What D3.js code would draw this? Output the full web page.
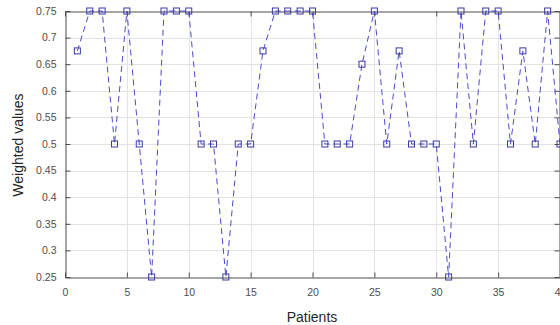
<!DOCTYPE html>
<meta charset="utf-8">
<style>
body { margin: 0; background: #fff; }
svg { font-family: "Liberation Sans", Arial, sans-serif; }
.grid line { stroke: #e3e3e3; stroke-width: 1; }
.axis text { fill: #4d4d4d; font-size: 10.5px; }
.axis path, .axis line { stroke: #4d4d4d; }
.label { fill: #262626; font-size: 14px; }
</style>
<svg width="560" height="325"></svg>
<script src="https://d3js.org/d3.v7.min.js"></script>
<script>
// patient index and weighted value
var patients = d3.range(1, 41);
var weights = [0.675, 0.75, 0.75, 0.5, 0.75, 0.5, 0.25, 0.75, 0.75, 0.75,
               0.5, 0.5, 0.25, 0.5, 0.5, 0.675, 0.75, 0.75, 0.75, 0.75,
               0.5, 0.5, 0.5, 0.65, 0.75, 0.5, 0.675, 0.5, 0.5, 0.5,
               0.25, 0.75, 0.5, 0.75, 0.75, 0.5, 0.675, 0.5, 0.75, 0.5];
var xTicks = [0, 5, 10, 15, 20, 25, 30, 35, 40];
var yTicks = [0.25, 0.3, 0.35, 0.4, 0.45, 0.5, 0.55, 0.6, 0.65, 0.7, 0.75];

var svg = d3.select("svg");
var pLeft = 65, pRight = 560, pTop = 11, pBottom = 277;

var x = d3.scaleLinear().domain([0, 40]).range([pLeft, pRight]);
var y = d3.scaleLinear().domain([0.25, 0.75]).range([pBottom, pTop]);

// grid
var grid = svg.append("g").attr("class", "grid");
grid.selectAll("line.v").data(xTicks.slice(1, -1)).enter().append("line")
    .attr("class", "v")
    .attr("x1", function(d) { return Math.round(x(d)) + 0.5; })
    .attr("x2", function(d) { return Math.round(x(d)) + 0.5; })
    .attr("y1", pTop).attr("y2", pBottom);
grid.selectAll("line.h").data(yTicks.slice(1, -1)).enter().append("line")
    .attr("class", "h")
    .attr("x1", pLeft).attr("x2", pRight)
    .attr("y1", function(d) { return Math.round(y(d)) + 0.5; })
    .attr("y2", function(d) { return Math.round(y(d)) + 0.5; });

// axes
var fmt = function(d) { return String(+d.toFixed(2)); };
svg.append("g").attr("class", "axis")
    .attr("transform", "translate(0," + (pBottom + 0.5) + ")")
    .call(d3.axisBottom(x).tickValues(xTicks).tickSize(-5).tickPadding(11).tickSizeOuter(0));
svg.append("g").attr("class", "axis")
    .attr("transform", "translate(0," + (pTop + 0.5) + ")")
    .call(d3.axisTop(x).tickValues(xTicks).tickSize(-5).tickSizeOuter(0).tickFormat(""));
svg.append("g").attr("class", "axis")
    .attr("transform", "translate(" + (pLeft + 0.5) + ",0)")
    .call(d3.axisLeft(y).tickValues(yTicks).tickSize(-5).tickPadding(9).tickSizeOuter(0).tickFormat(fmt));
svg.append("g").attr("class", "axis")
    .attr("transform", "translate(" + (pRight - 0.5) + ",0)")
    .call(d3.axisRight(y).tickValues(yTicks).tickSize(-5).tickSizeOuter(0).tickFormat(""));

// line
var line = d3.line()
    .x(function(d, i) { return x(patients[i]); })
    .y(function(d) { return y(d); });
svg.append("path")
    .datum(weights)
    .attr("fill", "none")
    .attr("stroke", "#4a4ad0")
    .attr("stroke-width", 1)
    .attr("stroke-dasharray", "6,4")
    .attr("d", line);

svg.append("g").selectAll("rect").data(weights).enter().append("rect")
    .attr("x", function(d, i) { return x(patients[i]) - 3; })
    .attr("y", function(d) { return y(d) - 3; })
    .attr("width", 6).attr("height", 6)
    .attr("fill", "none")
    .attr("stroke", "#3a3aa8")
    .attr("stroke-width", 1);

// labels
svg.append("text").attr("class", "label")
    .attr("x", 312).attr("y", 322)
    .attr("text-anchor", "middle").text("Patients");
svg.append("text").attr("class", "label")
    .attr("transform", "translate(23,145) rotate(-90)")
    .attr("text-anchor", "middle").text("Weighted values");
</script>
